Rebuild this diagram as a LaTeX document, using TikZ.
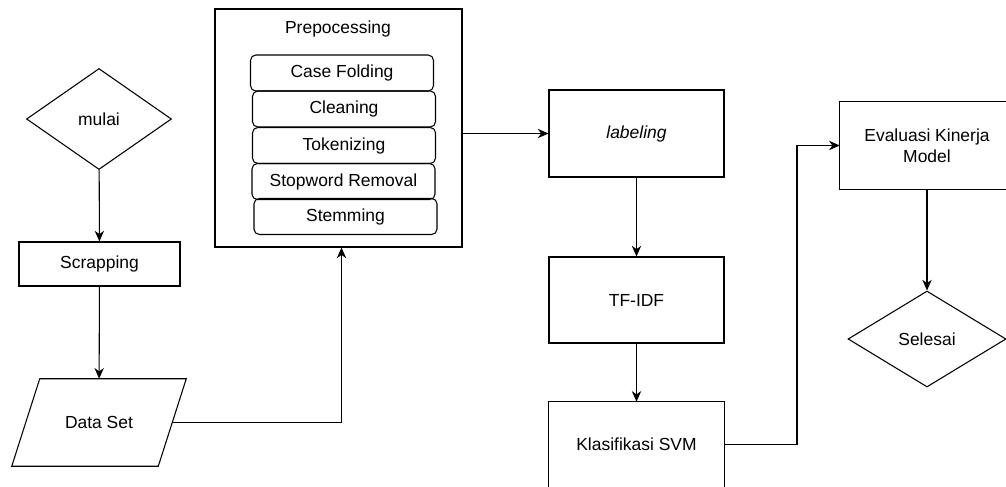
\documentclass[tikz,border=0pt]{standalone}
\usepackage{fontspec}
\setmainfont{Liberation Sans}
\usetikzlibrary{shapes.geometric,arrows.meta}

\begin{document}
\begin{tikzpicture}[x=0.75pt, y=-0.75pt,
  every node/.style={font=\fontsize{13.1}{15.75}\selectfont, inner sep=0pt},
  procbox/.style={draw, line width=0.8pt, rectangle},
  stepbox/.style={draw, line width=0.8pt, rectangle, rounded corners=4pt,
    minimum width=137.25pt, minimum height=27pt},
  decbox/.style={draw, line width=0.8pt, diamond},
  arr/.style={-{Stealth[length=8pt, width=7pt, inset=2.5pt]}, line width=0.8pt}]
\useasboundingbox (0,0) rectangle (1006,486);
\clip (0,0) rectangle (1006,486);
% left column
\node[decbox, minimum width=108.75pt, minimum height=75.75pt] (mulai) at (99,119){mulai};
\node[procbox, minimum width=120.75pt, minimum height=33pt] (scrap) at (99.5,264){Scrapping};
\node[minimum width=109.5pt, minimum height=65.25pt] (dataset) at (99,422.5){Data Set};
\draw[line width=0.8pt] ([xshift=10.5pt]dataset.north west) -- ([xshift=10.5pt]dataset.north east)
  -- ([xshift=-10.5pt]dataset.south east) -- ([xshift=-10.5pt]dataset.south west) -- cycle;
\draw[arr] (mulai) -- (scrap);
\draw[arr] (scrap) -- (dataset);
% prepocessing block
\node[procbox, minimum width=185.25pt, minimum height=178.5pt] (prep) at (338.5,128){};
\node (preptitle) at (338,29){Prepocessing};
\node[stepbox] (casefold) at (342,73){Case Folding};
\node[stepbox] (clean) at (344,109){Cleaning};
\node[stepbox] (token) at (344,145.5){Tokenizing};
\node[stepbox] (stopw) at (343.5,181.5){Stopword Removal};
\node[stepbox] (stem) at (345.5,216.5){Stemming};
\draw[arr] (dataset.east) -| ([xshift=2.25pt]prep.south);
% middle column
\node[procbox, minimum width=131.25pt, minimum height=65.25pt] (label) at (636.5,133.5){\itshape labeling};
\node[procbox, minimum width=131.25pt, minimum height=64.5pt] (tfidf) at (636.5,300){TF-IDF};
\node[minimum width=131.25pt, minimum height=63.75pt] (svm) at (636.5,444.5){Klasifikasi SVM};
\draw[line width=0.8pt] ([yshift=-6pt]svm.south west) |- (svm.north east) -- ([yshift=-6pt]svm.south east);
\draw[arr] (prep.east |- label.west) -- (label.west);
\draw[arr] (label) -- (tfidf);
\draw[arr] (tfidf) -- (svm);
% right column
\node[minimum width=130.5pt, minimum height=65.25pt, align=center] (eval) at (927,145.5){Evaluasi Kinerja\\Model};
\draw[line width=0.8pt] ([xshift=6pt]eval.north east) -| (eval.south west) -- ([xshift=6pt]eval.south east);
\node[decbox, minimum width=118.5pt, minimum height=72pt] (selesai) at (927,339){Selesai};
\coordinate (bendx) at (797,0);
\draw[arr] (svm.east) -- (svm.east -| bendx) |- (eval.west);
\draw[arr] (eval) -- (selesai);
\end{tikzpicture}
\end{document}
